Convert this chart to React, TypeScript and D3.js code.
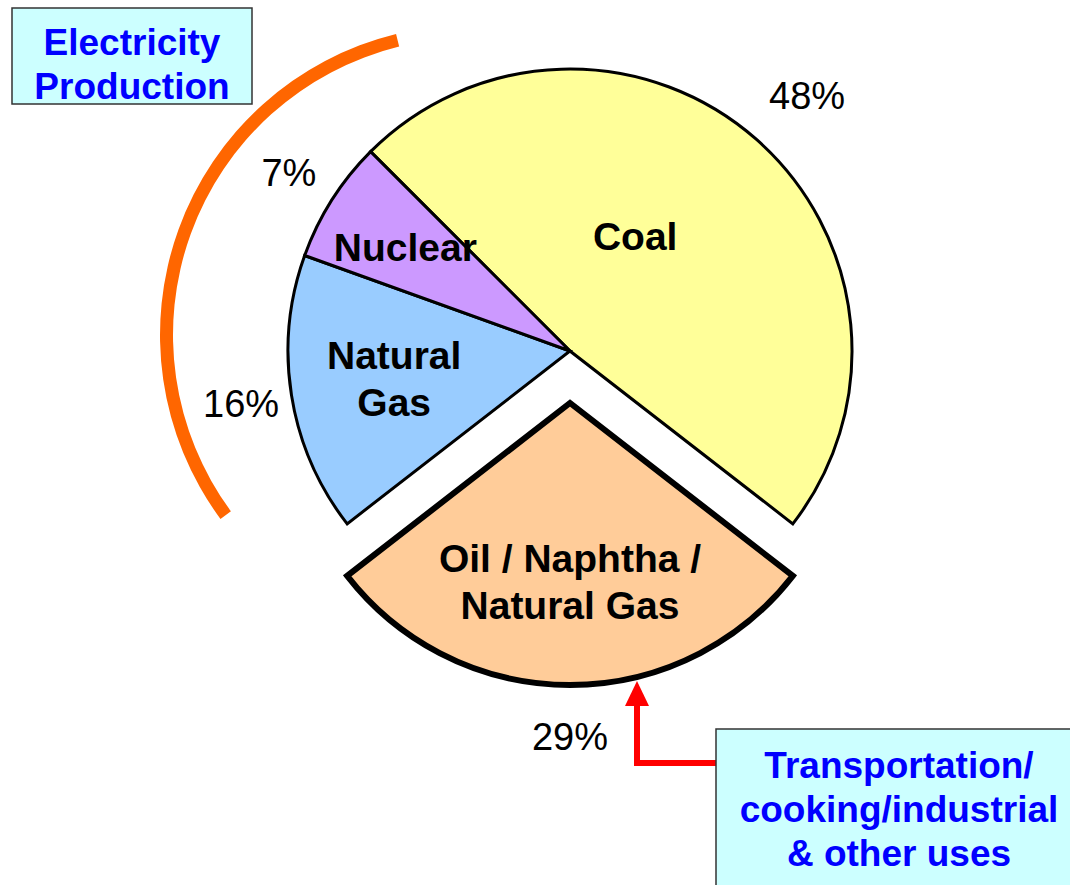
import React from "react";
import * as d3 from "d3";

// ---- data ----
const categories = ["Coal", "Oil / Naphtha / Natural Gas", "Natural Gas", "Nuclear"];
const shares = [48, 29, 16, 7];
const sliceLabelLines = [["Coal"], ["Oil / Naphtha /", "Natural Gas"], ["Natural", "Gas"], ["Nuclear"]];
const percentLabels = ["48%", "29%", "16%", "7%"];
const explodedFlags = [false, true, false, false];
const sliceColors = ["#FFFF99", "#FFCC99", "#99CCFF", "#CC99FF"];
const electricityBoxLines = ["Electricity", "Production"];
const otherUsesBoxLines = ["Transportation/", "cooking/industrial", "& other uses"];

// ---- layout ----
const W = 1070;
const H = 885;
const CX = 570;
const CY = 351;
const R = 282;
const EXPLODE = 52;
const PCT_R = 333;
const LABEL_R = 178;
const labelTweaks: Record<string, { r?: number; angleDeg?: number }> = {
  Coal: { r: 132, angleDeg: 29.6 },
  Nuclear: { r: 195 },
};
const pctTweaks: Record<string, { r?: number; angleDeg?: number }> = {
  Coal: { r: 349, angleDeg: 42.8 },
};
const FONT = "'Liberation Sans', Arial, Helvetica, sans-serif";
const deg = Math.PI / 180;

export default function App() {
  const pie = d3
    .pie<number>()
    .sort(null)
    .value((d) => d)
    .startAngle(-45 * deg)
    .endAngle(315 * deg);
  const arcs = pie(shares);
  const arcGen = d3.arc<d3.PieArcDatum<number>>().innerRadius(0).outerRadius(R);

  const slices = arcs.map((a, i) => {
    const mid = (a.startAngle + a.endAngle) / 2;
    const off = explodedFlags[i] ? EXPLODE : 0;
    const ox = CX + Math.sin(mid) * off;
    const oy = CY - Math.cos(mid) * off;
    return { a, i, mid, ox, oy };
  });

  const order = [...slices].sort((p, q) => Number(explodedFlags[p.i]) - Number(explodedFlags[q.i]));

  const electricityArc = d3.arc()({
    innerRadius: 297,
    outerRadius: 310,
    startAngle: -126.4 * deg,
    endAngle: -13.8 * deg,
  } as any) as string;

  const pctSize = 38;
  const labelSize = 39;
  const boxSize = 37;

  return (
    <svg
      width={W}
      height={H}
      style={{ position: "absolute", left: 0, top: 0, background: "#fff" }}
      fontFamily={FONT}
    >
      {/* Electricity production bracket arc */}
      <path d={electricityArc} transform="translate(470,335)" fill="#FF6600" />

      {/* pie slices */}
      {order.map(({ a, i, ox, oy }) => (
        <path
          key={categories[i]}
          d={arcGen(a) as string}
          transform={`translate(${ox},${oy})`}
          fill={sliceColors[i]}
          stroke="#000"
          strokeWidth={explodedFlags[i] ? 6 : 3}
          strokeLinejoin="miter"
        />
      ))}

      {/* slice labels */}
      {slices.map(({ i, mid, ox, oy }) => {
        const t = labelTweaks[categories[i]] || {};
        const r = t.r ?? LABEL_R;
        const ang = t.angleDeg !== undefined ? t.angleDeg * deg : mid;
        const x = ox + Math.sin(ang) * r;
        const y = oy - Math.cos(ang) * r;
        const lines = sliceLabelLines[i];
        const lh = 47;
        return (
          <text
            key={"l" + i}
            textAnchor="middle"
            fontWeight="bold"
            fontSize={labelSize}
            fill="#000"
          >
            {lines.map((ln, k) => (
              <tspan key={k} x={x} y={y + (k - (lines.length - 1) / 2) * lh + labelSize * 0.36}>
                {ln}
              </tspan>
            ))}
          </text>
        );
      })}

      {/* percentage labels */}
      {slices.map(({ i, mid, ox, oy }) => {
        const t = pctTweaks[categories[i]] || {};
        const r = t.r ?? PCT_R;
        const ang = t.angleDeg !== undefined ? t.angleDeg * deg : mid;
        const x = ox + Math.sin(ang) * r;
        const y = oy - Math.cos(ang) * r;
        return (
          <text
            key={"p" + i}
            x={x}
            y={y + pctSize * 0.36}
            textAnchor="middle"
            fontSize={pctSize}
            fill="#000"
          >
            {percentLabels[i]}
          </text>
        );
      })}

      {/* Electricity Production box */}
      <rect x={12} y={8} width={240} height={96} fill="#CCFFFF" stroke="#333" strokeWidth={1.5} />
      {electricityBoxLines.map((ln, k) => (
        <text
          key={"e" + k}
          x={132}
          y={55 + k * 44}
          textAnchor="middle"
          fontWeight="bold"
          fontSize={boxSize}
          fill="#0000FF"
        >
          {ln}
        </text>
      ))}

      {/* red arrow */}
      <path d="M716,763 H637 V700" fill="none" stroke="#FF0000" strokeWidth={6} />
      <path d="M637,681 L625,706 L649,706 Z" fill="#FF0000" />

      {/* Other uses box */}
      <rect x={716} y={729} width={370} height={170} fill="#CCFFFF" stroke="#333" strokeWidth={1.5} />
      {otherUsesBoxLines.map((ln, k) => (
        <text
          key={"o" + k}
          x={899}
          y={778 + k * 44}
          textAnchor="middle"
          fontWeight="bold"
          fontSize={boxSize}
          fill="#0000FF"
        >
          {ln}
        </text>
      ))}
    </svg>
  );
}
